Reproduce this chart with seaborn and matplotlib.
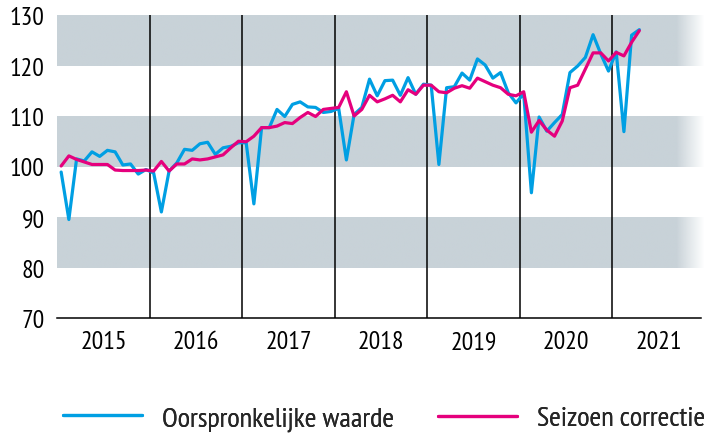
import numpy as np
import pandas as pd
import matplotlib
matplotlib.use('Agg')
import matplotlib.pyplot as plt
from matplotlib.lines import Line2D
from matplotlib import font_manager
import seaborn as sns

# Monthly index values, Jan 2015 - Apr 2021
origineel = [
    98.9, 89.5, 101.5, 101.1, 102.9, 102.0, 103.2, 102.9, 100.3, 100.5, 98.5, 99.4,   # 2015
    98.7, 91.0, 99.1, 100.7, 103.4, 103.2, 104.5, 104.8, 102.4, 103.7, 104.0, 104.7,  # 2016
    104.7, 92.6, 107.7, 107.7, 111.3, 109.9, 112.3, 112.8, 111.8, 111.7, 110.7, 110.9, # 2017
    111.5, 101.3, 110.3, 111.7, 117.3, 114.0, 117.0, 117.1, 114.1, 117.6, 114.3, 116.3, # 2018
    116.1, 100.4, 115.6, 115.8, 118.5, 117.1, 121.3, 120.1, 117.5, 118.6, 114.6, 112.6, # 2019
    114.4, 94.8, 109.8, 107.0, 108.7, 110.3, 118.6, 119.9, 121.6, 126.1, 122.3, 118.9,  # 2020
    122.7, 106.9, 126.0, 127.1,                                                        # 2021
]
seizoen = [
    100.1, 102.1, 101.4, 100.9, 100.4, 100.4, 100.4, 99.3, 99.2, 99.2, 99.2, 99.3,
    99.1, 101.0, 99.1, 100.5, 100.5, 101.5, 101.3, 101.5, 101.9, 102.3, 103.7, 105.0,
    104.9, 106.0, 107.7, 107.7, 108.0, 108.7, 108.5, 109.7, 110.7, 109.9, 111.3, 111.5,
    111.7, 114.8, 110.0, 111.3, 114.1, 112.8, 113.4, 114.1, 112.8, 115.2, 114.3, 116.1,
    116.1, 114.8, 114.6, 115.5, 116.0, 115.5, 117.5, 116.8, 116.1, 115.6, 114.3, 114.0,
    114.8, 106.8, 109.1, 107.2, 106.0, 109.0, 115.6, 116.1, 119.3, 122.5, 122.5, 120.9,
    122.6, 121.9, 124.6, 126.9,
]
years = ['2015', '2016', '2017', '2018', '2019', '2020', '2021']
labels = ['Oorspronkelijke waarde', 'Seizoen correctie']

blue = '#009FE3'
pink = '#E5007D'
band = np.array([200, 210, 216]) / 255

sns.set_theme(style='white')
# pick a condensed sans-serif if one is around
available = {f.name for f in font_manager.fontManager.ttflist}
wanted = ['PT Sans Narrow', 'Asap Condensed', 'Archivo Narrow', 'Roboto Condensed',
          'Fira Sans Condensed', 'Open Sans Condensed', 'Liberation Sans Narrow',
          'Encode Sans Condensed', 'Barlow Semi Condensed']
chosen = [f for f in wanted if f in available][:1]
plt.rcParams['font.family'] = chosen + ['DejaVu Sans']

# month centres on a 0..84 month axis
month = np.arange(len(origineel)) + 0.5
df = pd.DataFrame({
    'maand': np.concatenate([month, month]),
    'waarde': origineel + seizoen,
    'reeks': [labels[0]] * len(origineel) + [labels[1]] * len(seizoen),
})

fig = plt.figure(figsize=(7.08, 4.35), dpi=100)
ax = fig.add_axes([57.3 / 708, 1 - 319 / 435, (701 - 57.3) / 708, (319 - 16) / 435])

# grey bands fading out at the right
xs = np.linspace(0, 84, 400)
alpha = np.clip((84 - xs) / (84 - 80.4), 0, 1)
rgba = np.zeros((1, len(xs), 4))
rgba[..., :3] = band
rgba[..., 3] = alpha
for lo in (80, 100, 120):
    ax.imshow(rgba, extent=[0, 84, lo, lo + 10], aspect='auto', zorder=0,
              clip_on=False, interpolation='bilinear')

for i in range(1, len(years)):
    ax.axvline(12 * i, color='black', lw=1.1, zorder=1.5)

sns.lineplot(data=df, x='maand', y='waarde', hue='reeks', palette=[blue, pink],
             lw=2.3, ax=ax, legend=False, zorder=3)

ax.set_xlim(0, 83.5)
ax.set_ylim(70, 130)
ax.set_yticks(range(70, 131, 10))
ax.set_xticks([12 * i + 6 for i in range(len(years))])
ax.set_xticklabels(years)
ax.tick_params(axis='both', length=0, labelsize=18.5, colors='black')
ax.tick_params(axis='y', pad=9)
ax.tick_params(axis='x', pad=9)
ax.set_xlabel('')
ax.set_ylabel('')
for s in ['top', 'right', 'left']:
    ax.spines[s].set_visible(False)
ax.spines['bottom'].set_color('black')
ax.spines['bottom'].set_linewidth(1.1)
ax.set_facecolor('white')

# two legend entries, placed separately like the original
for color, label, x0 in [(blue, labels[0], 63), (pink, labels[1], 438)]:
    leg = fig.legend([Line2D([], [], color=color, lw=2.3)], [label], loc='center left',
                     bbox_to_anchor=(x0 / 708, 1 - 419 / 435), frameon=False,
                     fontsize=20.5, handlelength=2.77, handletextpad=0.72,
                     borderpad=0, borderaxespad=0)
    fig.add_artist(leg)

fig.savefig('out.png', dpi=100)
plt.close(fig)
